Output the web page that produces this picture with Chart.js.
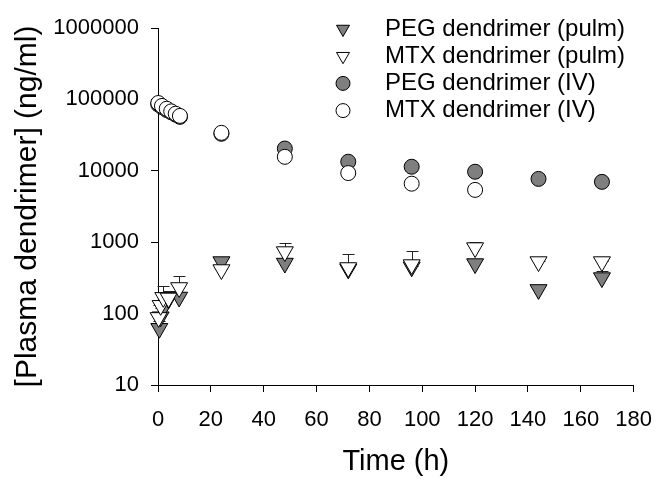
<!DOCTYPE html>
<html>
<head>
<meta charset="utf-8">
<script src="https://cdn.jsdelivr.net/npm/chart.js@4/dist/chart.umd.min.js"></script>
<style>
  body { margin: 0; background: #fff; }
  #wrap { width: 667px; height: 481px; }
</style>
</head>
<body>
<div id="wrap"><canvas id="grafico" width="667" height="481"></canvas></div>
<script>
// valores (ng/ml)
const pegPulmTempos = [0.5, 1, 2, 4, 8, 24, 48, 72, 96, 120, 144, 168];
const pegPulm = [62, 90, 120, 160, 170, 533, 508, 420, 450, 500, 217, 318];
const pegPulmErro = [80, 120, 150, 190, 200, 560, 540, 440, 470, 520, 255, 390];

const mtxPulmTempos = [0.25, 1, 2, 4, 8, 24, 48, 72, 96, 120, 144, 168];
const mtxPulm = [88, 130, 168, 165, 231, 412, 736, 440, 484, 837, 533, 533];
const mtxPulmErro = [130, 200, 241, 210, 333, 420, 980, 690, 760, 1000, 540, 540];

const pegIVTempos = [0.1, 1.5, 3.3, 5, 6.7, 8.3, 24, 48, 72, 96, 120, 144, 168];
const pegIV = [85000, 78000, 71000, 66000, 61000, 57000, 33000, 20500, 13400, 11400, 9700, 7700, 7000];

const mtxIVTempos = [0.1, 1.5, 3.3, 5, 6.7, 8.3, 24, 48, 72, 96, 120];
const mtxIV = [89000, 81000, 74000, 68000, 63000, 58700, 34000, 15700, 9300, 6600, 5400];

const yTicks = [10, 100, 1000, 10000, 100000, 1000000];
const legendas = ["PEG dendrimer (pulm)", "MTX dendrimer (pulm)", "PEG dendrimer (IV)", "MTX dendrimer (IV)"];

const fonte = "'Liberation Sans', Arial, sans-serif";
const cinza = "#7f7f7f";

function pontos(tempos, valores) {
  return tempos.map((t, i) => ({ x: t, y: valores[i] }));
}

// barras de erro (so para cima, com tracinho)
const barrasErro = {
  id: "barrasErro",
  beforeDatasetsDraw(chart) {
    const ctx = chart.ctx;
    const xs = chart.scales.x, ys = chart.scales.y;
    const series = [
      [pegPulmTempos, pegPulm, pegPulmErro],
      [mtxPulmTempos, mtxPulm, mtxPulmErro]
    ];
    ctx.save();
    ctx.strokeStyle = "#222";
    ctx.lineWidth = 1;
    series.forEach(([tempos, vals, erros]) => {
      tempos.forEach((t, i) => {
        const x = Math.round(xs.getPixelForValue(t)) + 0.5;
        const y1 = ys.getPixelForValue(vals[i]);
        const y2 = Math.round(ys.getPixelForValue(erros[i])) + 0.5;
        ctx.beginPath();
        ctx.moveTo(x, y1);
        ctx.lineTo(x, y2);
        ctx.moveTo(x - 6, y2);
        ctx.lineTo(x + 6, y2);
        ctx.stroke();
      });
    });
    ctx.restore();
  }
};

// legenda dentro da area do grafico
const legendaInterna = {
  id: "legendaInterna",
  afterDraw(chart) {
    const ctx = chart.ctx;
    ctx.save();
    ctx.font = "24px " + fonte;
    ctx.textBaseline = "middle";
    ctx.textAlign = "left";
    chart.data.datasets.forEach((ds, i) => {
      const y = 29 + i * 27.2;
      ctx.fillStyle = ds.backgroundColor;
      ctx.strokeStyle = "#000";
      ctx.lineWidth = 1;
      Chart.helpers.drawPoint(ctx, {
        pointStyle: ds.pointStyle,
        rotation: ds.rotation || 0,
        radius: ds.pointStyle === "triangle" ? 7.5 : 7,
        borderWidth: 1
      }, 343, y);
      ctx.fillStyle = "#000";
      ctx.fillText(legendas[i], 385, y);
    });
    ctx.restore();
  }
};

const ctx = document.getElementById("grafico").getContext("2d");
new Chart(ctx, {
  type: "scatter",
  data: {
    datasets: [
      {
        label: legendas[0],
        data: pontos(pegPulmTempos, pegPulm),
        pointStyle: "triangle", rotation: 180, pointRadius: 9.8,
        backgroundColor: cinza, borderColor: "#000", borderWidth: 1,
        clip: false, order: 2
      },
      {
        label: legendas[1],
        data: pontos(mtxPulmTempos, mtxPulm),
        pointStyle: "triangle", rotation: 180, pointRadius: 9.8,
        backgroundColor: "#fff", borderColor: "#000", borderWidth: 1,
        clip: false, order: 1
      },
      {
        label: legendas[2],
        data: pontos(pegIVTempos, pegIV),
        pointStyle: "circle", pointRadius: 7.5,
        backgroundColor: cinza, borderColor: "#000", borderWidth: 1,
        clip: false, order: 4
      },
      {
        label: legendas[3],
        data: pontos(mtxIVTempos, mtxIV),
        pointStyle: "circle", pointRadius: 7.5,
        backgroundColor: "#fff", borderColor: "#000", borderWidth: 1,
        clip: false, order: 3
      }
    ]
  },
  options: {
    responsive: false,
    animation: false,
    devicePixelRatio: 1,
    layout: { padding: { left: 0, right: 28, top: 28, bottom: 0 } },
    plugins: { legend: { display: false }, tooltip: { enabled: false } },
    scales: {
      x: {
        type: "linear",
        min: 0, max: 180,
        ticks: { stepSize: 20, color: "#000", font: { family: fonte, size: 22 }, padding: 15, maxRotation: 0 },
        grid: { drawOnChartArea: false, drawTicks: true, tickLength: 7, color: "#000" },
        border: { display: true, color: "#000", width: 1 },
        title: { display: true, text: "Time (h)", color: "#000", font: { family: fonte, size: 29 }, padding: { top: 0, bottom: 2 } },
        afterFit(scale) { scale.height = 96; }
      },
      y: {
        type: "logarithmic",
        min: 10, max: 1000000,
        afterBuildTicks(scale) { scale.ticks = yTicks.map(v => ({ value: v })); },
        ticks: { color: "#000", font: { family: fonte, size: 22 }, padding: 12, callback: v => String(v) },
        grid: { drawOnChartArea: false, drawTicks: true, tickLength: 7, color: "#000" },
        border: { display: true, color: "#000", width: 1 },
        title: { display: true, text: "[Plasma dendrimer] (ng/ml)", color: "#000", font: { family: fonte, size: 30 }, padding: { top: 10, bottom: 0 } },
        afterFit(scale) { scale.width = 158; }
      }
    }
  },
  plugins: [barrasErro, legendaInterna]
});
</script>
</body>
</html>
